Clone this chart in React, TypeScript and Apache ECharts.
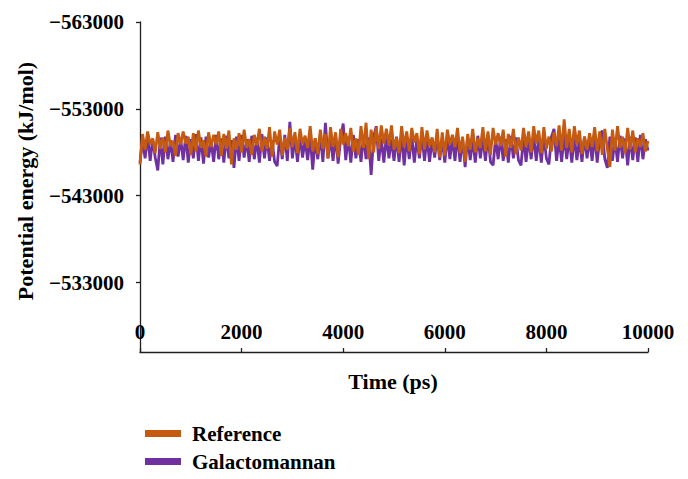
import React, { useEffect, useRef } from "react";
import * as echarts from "echarts";

const SERIES_NAMES = ["Reference", "Galactomannan"];
const X_TICKS = [0, 2000, 4000, 6000, 8000, 10000];
const Y_TICKS = [-563000, -553000, -543000, -533000];
const SAMPLE_STEP_PS = 50;

const REFERENCE = [
  -546600, -550100, -548300, -550400, -548900, -549600, -547900, -550300, -548400, -549700,
  -548000, -550500, -548700, -549300, -547600, -550200, -548900, -550400, -549000, -549800,
  -547700, -550200, -548100, -550500, -548500, -549400, -547500, -550300, -548600, -550000,
  -548900, -550400, -547600, -550100, -548400, -550500, -546600, -549600, -548300, -550200,
  -548000, -550600, -548500, -549500, -547700, -550000, -548800, -550700, -548100, -549800,
  -548400, -550900, -547500, -550400, -548900, -550600, -547600, -549700, -548300, -550800,
  -548600, -550300, -547900, -550700, -548900, -549900, -548500, -551000, -548100, -549600,
  -547800, -550600, -548400, -550100, -547300, -550900, -548600, -550300, -547400, -550700,
  -548900, -550200, -548700, -550800, -548100, -549600, -547700, -551000, -548500, -551400,
  -547200, -550600, -548000, -550900, -548400, -551100, -549000, -550700, -548800, -551100,
  -548300, -549700, -547900, -551000, -548600, -550400, -548100, -550800, -549100, -550200,
  -547800, -550900, -548300, -550500, -548700, -549700, -548000, -550700, -547400, -550300,
  -547600, -550600, -548900, -550000, -548600, -550800, -547900, -549800, -546900, -550100,
  -548300, -550700, -548000, -549600, -548500, -550900, -548100, -550400, -547700, -550800,
  -548900, -550200, -548700, -550600, -547500, -550100, -548500, -550700, -547800, -549700,
  -548200, -550800, -548600, -550400, -548000, -551000, -549000, -550500, -547900, -550900,
  -548400, -549800, -548100, -550300, -548700, -551100, -548200, -551800, -548500, -550700,
  -548000, -551000, -548900, -550500, -547800, -549800, -548300, -550200, -548600, -550900,
  -548100, -550400, -547700, -550700, -548400, -546300, -550600, -548200, -551000, -548500,
  -549800, -547900, -550800, -548300, -550500, -548000, -549600, -548600, -550200, -548100,
  -549300,
];

const GALACTOMANNAN = [
  -546800, -549600, -547300, -549900, -547000, -549500, -547400, -545900, -549700, -546600,
  -549800, -547200, -549400, -546900, -550000, -547500, -549600, -547100, -549900, -546800,
  -549500, -547300, -550100, -547000, -549700, -546700, -549800, -547400, -549300, -546900,
  -550000, -547200, -549600, -546800, -549900, -547300, -549400, -546200, -549800, -547000,
  -550000, -547400, -549500, -546900, -549900, -547200, -549600, -546800, -550100, -547300,
  -549700, -547000, -549400, -546900, -546400, -549800, -547200, -550000, -547000, -551500,
  -547300, -549700, -546900, -549900, -547400, -549500, -547100, -549800, -546000, -549600,
  -547200, -550000, -546900, -551400, -547300, -549700, -547000, -549900, -546700, -549600,
  -551300, -547100, -549800, -546800, -550000, -547300, -549500, -546900, -549900, -547200,
  -549700, -545400, -549800, -551000, -547000, -549600, -546800, -549900, -547300, -549500,
  -547000, -549800, -546900, -550100, -546500, -549700, -547200, -549900, -546800, -549600,
  -547300, -550000, -547000, -549700, -546900, -549500, -547400, -549800, -547100, -549600,
  -546800, -549900, -547200, -549700, -547000, -550000, -546900, -549600, -546300, -549800,
  -547100, -549500, -546800, -549900, -547300, -549700, -547000, -550000, -546900, -546500,
  -549600, -547200, -549800, -547000, -549500, -546800, -549900, -547300, -549700, -547100,
  -546500, -549800, -546900, -549600, -547200, -550000, -547000, -549700, -546800, -549900,
  -547300, -546600, -549800, -550700, -547000, -549600, -546900, -550000, -547200, -549700,
  -546800, -549900, -547100, -549500, -546900, -549800, -547300, -549600, -547000, -550000,
  -546800, -549700, -550500, -547200, -546200, -549800, -547000, -549500, -546900, -549900,
  -547300, -549600, -546500, -549800, -547100, -549700, -546900, -550000, -547200, -549500,
  -548200,
];

const FONT = "'Liberation Serif', 'Times New Roman', serif";

export default function App() {
  const ref = useRef<HTMLDivElement>(null);
  useEffect(() => {
    if (!ref.current) return;
    const chart = echarts.init(ref.current, undefined, { renderer: "svg" });
    const toPairs = (vals: number[]) => vals.map((v, i) => [i * SAMPLE_STEP_PS, v]);
    const fmt = (v: number) => String(v).replace("-", "\u2212");
    chart.setOption({
      animation: false,
      backgroundColor: "#ffffff",
      textStyle: { fontFamily: FONT },
      grid: { left: 140, right: 40, top: 22, bottom: 127, containLabel: false },
      xAxis: {
        type: "value",
        min: X_TICKS[0],
        max: X_TICKS[X_TICKS.length - 1],
        interval: X_TICKS[1] - X_TICKS[0],
        axisLine: { show: true, lineStyle: { color: "#231f20", width: 1.3 } },
        axisTick: { show: true, inside: true, length: 4, lineStyle: { color: "#231f20", width: 1.3 } },
        axisLabel: {
          inside: true,
          margin: 10,
          color: "#000",
          fontFamily: FONT,
          fontWeight: "bold",
          fontSize: 21,
          formatter: (v: number) => String(v),
        },
        splitLine: { show: false },
      },
      yAxis: {
        type: "value",
        inverse: true,
        min: Y_TICKS[0],
        max: -525000,
        interval: Y_TICKS[1] - Y_TICKS[0],
        axisLine: { show: true, lineStyle: { color: "#231f20", width: 1.3 } },
        axisTick: { show: true, length: 4, lineStyle: { color: "#231f20", width: 1.3 } },
        axisLabel: {
          margin: 16,
          color: "#000",
          fontFamily: FONT,
          fontWeight: "bold",
          fontSize: 21,
          showMaxLabel: false,
          formatter: (v: number) => (Y_TICKS.includes(v) ? fmt(v) : ""),
        },
        splitLine: { show: false },
      },
      legend: {
        data: SERIES_NAMES,
        orient: "vertical",
        left: 140,
        top: 418,
        itemWidth: 36,
        itemHeight: 7,
        itemGap: 7,
        icon: "rect",
        textStyle: {
          color: "#000",
          fontFamily: FONT,
          fontWeight: "bold",
          fontSize: 21,
          padding: [0, 0, 0, 6],
        },
      },
      graphic: [
        {
          type: "text",
          x: 25,
          y: 181,
          rotation: Math.PI / 2,
          style: {
            text: "Potential energy (kJ/mol)",
            fill: "#000",
            font: `bold 22px ${FONT}`,
            textAlign: "center",
            textVerticalAlign: "middle",
          },
        },
        {
          type: "text",
          x: 393,
          y: 381,
          style: {
            text: "Time (ps)",
            fill: "#000",
            font: `bold 22px ${FONT}`,
            textAlign: "center",
            textVerticalAlign: "middle",
          },
        },
      ],
      series: [
        {
          name: SERIES_NAMES[1],
          type: "line",
          data: toPairs(GALACTOMANNAN),
          showSymbol: false,
          symbol: "none",
          color: "#7030a0",
          lineStyle: { color: "#7030a0", width: 2.8 },
          z: 2,
        },
        {
          name: SERIES_NAMES[0],
          type: "line",
          data: toPairs(REFERENCE),
          showSymbol: false,
          symbol: "none",
          color: "#c55a11",
          lineStyle: { color: "#c55a11", width: 2.8 },
          z: 3,
        },
      ],
    });
    return () => chart.dispose();
  }, []);
  return (
    <div
      ref={ref}
      style={{ position: "fixed", left: 0, top: 0, width: 688, height: 479 }}
    />
  );
}
